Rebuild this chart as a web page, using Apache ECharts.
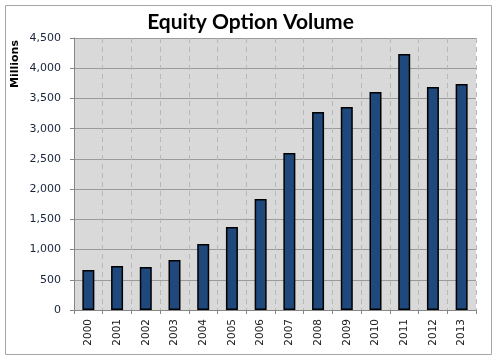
<!DOCTYPE html>
<html><head><meta charset="utf-8">
<script src="https://cdn.jsdelivr.net/npm/echarts@6/dist/echarts.min.js"></script>
<style>html,body{margin:0;padding:0;background:#fff}#c{width:501px;height:361px}</style>
</head><body><div id="c"></div>
<script>
const years = ['2000','2001','2002','2003','2004','2005','2006','2007','2008','2009','2010','2011','2012','2013'];
const volume = [662, 728, 711, 827, 1092, 1373, 1836, 2597, 3276, 3359, 3607, 4235, 3689, 3739];
const yTicks = [0, 500, 1000, 1500, 2000, 2500, 3000, 3500, 4000, 4500];
const titleText = 'Equity Option Volume';
const yName = 'Millions';

const chart = echarts.init(document.getElementById('c'), null, {renderer: 'canvas'});
chart.setOption({
  animation: false,
  backgroundColor: '#fff',
  title: {
    text: titleText, left: 'center', top: 7,
    textStyle: {fontFamily: 'Lato', fontWeight: 'bold', fontSize: 21, color: '#000'}
  },
  graphic: [{
    type: 'rect', shape: {x: 5.5, y: 5.5, width: 486, height: 349},
    style: {fill: 'none', stroke: '#a6a6a6', lineWidth: 1}, z: -1
  }, {
    type: 'text', left: 10, top: 40, rotation: Math.PI / 2,
    style: {text: yName, font: 'bold 11px "DejaVu Sans"', fill: '#000'}
  }],
  grid: {left: 74, right: 25, top: 38, bottom: 51, show: true, backgroundColor: '#d9d9d9', borderWidth: 0},
  xAxis: {
    type: 'category', data: years,
    axisLine: {lineStyle: {color: '#868686', width: 1}},
    axisTick: {show: true, length: 4, lineStyle: {color: '#868686'}},
    splitLine: {show: true, lineStyle: {color: '#b8b8b8', type: [5, 4], width: 1}},
    axisLabel: {rotate: 90, fontFamily: 'DejaVu Sans', fontSize: 10.5, color: '#1a1a1a', margin: 9}
  },
  yAxis: {
    type: 'value', min: yTicks[0], max: yTicks[yTicks.length - 1], interval: 500,
    axisLine: {show: true, lineStyle: {color: '#868686'}},
    axisTick: {show: true, length: 4, lineStyle: {color: '#868686'}},
    splitLine: {show: true, lineStyle: {color: '#9a9a9a', width: 1}},
    axisLabel: {
      fontFamily: 'DejaVu Sans', fontSize: 11, color: '#17233a', margin: 13,
      formatter: v => v.toLocaleString('en-US')
    }
  },
  series: [{
    type: 'bar', data: volume, barWidth: 12,
    itemStyle: {color: '#1f497d', borderColor: '#000', borderWidth: 1.5}
  }]
});
</script></body></html>
